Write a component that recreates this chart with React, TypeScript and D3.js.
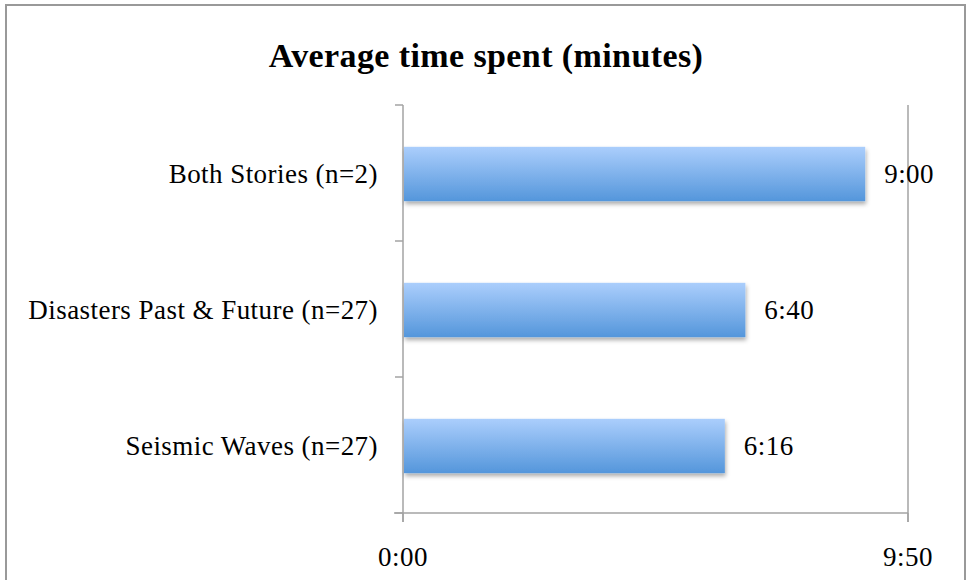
import React from "react";
import * as d3 from "d3";

// Average time per story, in seconds
const categories = ["Both Stories (n=2)", "Disasters Past & Future (n=27)", "Seismic Waves (n=27)"];
const seconds = [540, 400, 376];
const valueLabels = ["9:00", "6:40", "6:16"];
const axisTicks = [0, 590];
const axisTickLabels = ["0:00", "9:50"];

const W = 967;
const H = 580;
const FONT = "'Liberation Serif', 'Times New Roman', serif";

export default function App() {
  const x = d3.scaleLinear().domain([0, 590]).range([403, 908]);
  const y = d3.scaleBand<string>().domain(categories).range([105, 513]).paddingInner(0.6).paddingOuter(0.3);
  const bandEdges = d3.range(categories.length + 1).map((i) => 105 + i * ((513 - 105) / categories.length));
  const axisColor = "#a3a3a3";

  return (
    <svg width={W} height={H} style={{ position: "absolute", left: 0, top: 0 }}>
      <defs>
        <linearGradient id="barFill" x1="0" y1="0" x2="0" y2="1">
          <stop offset="0%" stopColor="#abcefc" />
          <stop offset="100%" stopColor="#5496db" />
        </linearGradient>
        <filter id="barShadow" x="-5%" y="-20%" width="115%" height="160%">
          <feDropShadow dx="1" dy="3" stdDeviation="2.2" floodColor="#000" floodOpacity="0.32" />
        </filter>
      </defs>
      <rect x={0} y={0} width={W} height={H} fill="#fff" />
      <rect x={6} y={5} width={959} height={H + 10} fill="#fff" stroke="#999" strokeWidth={2} />

      <text x={486} y={67} textAnchor="middle" fontFamily={FONT} fontWeight="bold" fontSize={34} letterSpacing={0.4} fill="#000">
        Average time spent (minutes)
      </text>

      {/* right gridline */}
      <line x1={x(590)} x2={x(590)} y1={105} y2={522} stroke={axisColor} strokeWidth={1.5} />
      {/* value axis */}
      <line x1={394} x2={x(590)} y1={513} y2={513} stroke={axisColor} strokeWidth={1.5} />
      {axisTicks.map((t, i) => (
        <g key={t}>
          <line x1={x(t)} x2={x(t)} y1={513} y2={522} stroke={axisColor} strokeWidth={1.5} />
          <text x={x(t)} y={566} textAnchor="middle" fontFamily={FONT} fontSize={27} letterSpacing={0.45} fill="#000">
            {axisTickLabels[i]}
          </text>
        </g>
      ))}
      {/* category axis */}
      <line x1={x(0)} x2={x(0)} y1={105} y2={522} stroke={axisColor} strokeWidth={1.5} />
      {bandEdges.map((e) => (
        <line key={e} x1={395} x2={x(0)} y1={e} y2={e} stroke={axisColor} strokeWidth={1.5} />
      ))}

      {categories.map((c, i) => {
        const top = (y(c) as number) + 1;
        const bw = y.bandwidth();
        const cy = top + bw / 2;
        return (
          <g key={c}>
            <rect
              x={x(0) + 1}
              y={top}
              width={x(seconds[i]) - x(0) - 1}
              height={bw}
              fill="url(#barFill)"
              filter="url(#barShadow)"
            />
            <text x={378} y={cy + 9} textAnchor="end" fontFamily={FONT} fontSize={27} letterSpacing={0.45} fill="#000">
              {c}
            </text>
            <text x={x(seconds[i]) + 19} y={cy + 9} fontFamily={FONT} fontSize={27} letterSpacing={0.45} fill="#000">
              {valueLabels[i]}
            </text>
          </g>
        );
      })}
    </svg>
  );
}
